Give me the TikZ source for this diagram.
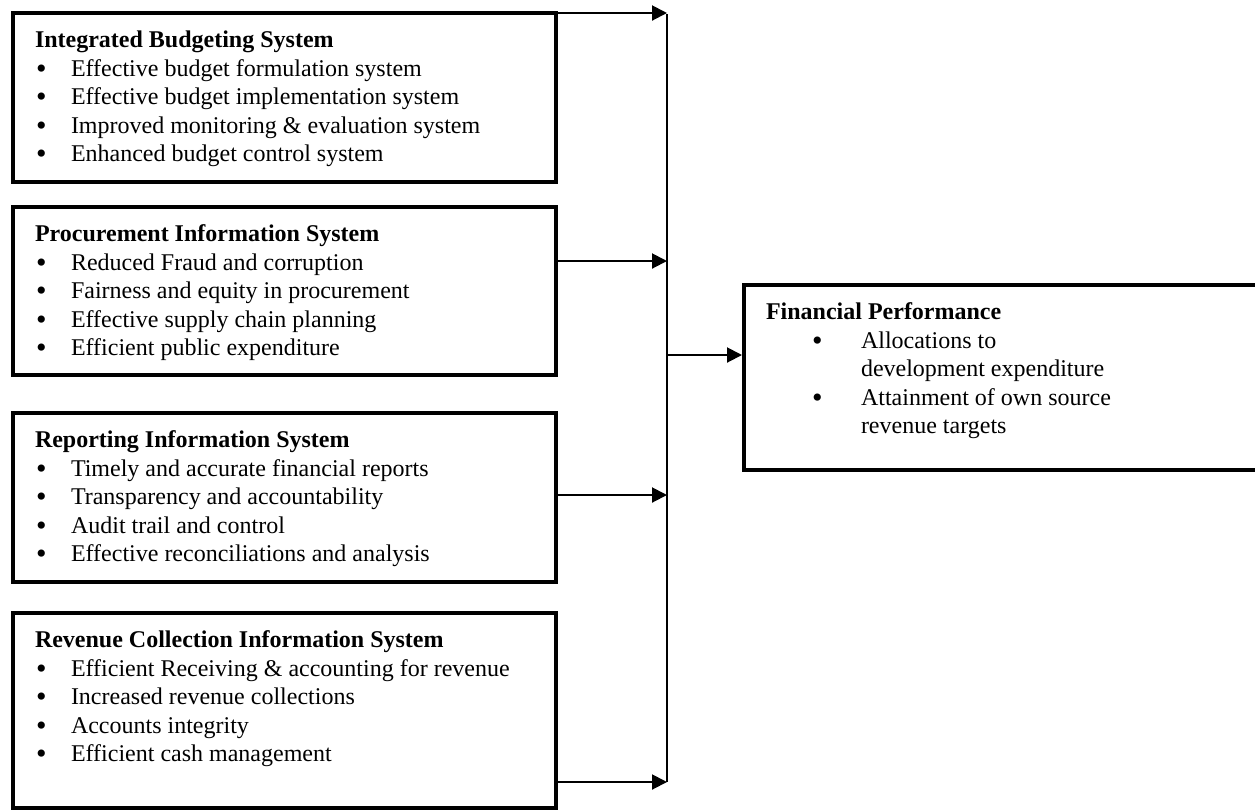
\documentclass[tikz,border=0pt]{standalone}
\usepackage{fontspec}
\setmainfont{Liberation Serif}
\usetikzlibrary{arrows.meta, positioning, calc}

% bullet rows
\newcommand{\bigdot}{\smash{\raisebox{-0.8pt}{\fontsize{15}{14}\selectfont\textbullet}}}
\newcommand{\bul}{\makebox[18pt][l]{\hspace{0.5pt}\bigdot}}
\newcommand{\fpbul}{\hspace*{23pt}\makebox[24.5pt][l]{\bigdot}}
\newcommand{\fpgo}{\hspace*{47.5pt}}

\begin{document}
\begin{tikzpicture}[x=0.5pt, y=-0.5pt,
    font=\fontsize{12}{14.25}\selectfont,
    sysbox/.style={draw, line width=2pt, anchor=north west, outer sep=0pt,
        inner xsep=11pt, inner ysep=7.5pt},
    feed/.style={line width=1pt, -{Triangle[length=7.5pt,width=7.5pt]}}]
    \useasboundingbox (0,0) rectangle (1255,811);
    \clip (0,0) rectangle (1255,811);

    % Integrated Budgeting System
    \node[sysbox] (ibs) at (13,13) {\parbox[t][69.5pt][t]{249.5pt}{\strut\textbf{Integrated Budgeting System}\\
        \bul Effective budget formulation system\\
        \bul Effective budget implementation system\\
        \bul Improved monitoring \& evaluation system\\
        \bul Enhanced budget control system}};

    % Procurement Information System
    \node[sysbox] (pis) at (13,207) {\parbox[t][69pt][t]{249.5pt}{\strut\textbf{Procurement Information System}\\
        \bul Reduced Fraud and corruption\\
        \bul Fairness and equity in procurement\\
        \bul Effective supply chain planning\\
        \bul Efficient public expenditure}};

    % Reporting Information System
    \node[sysbox] (ris) at (13,413) {\parbox[t][69.5pt][t]{249.5pt}{\strut\textbf{Reporting Information System}\\
        \bul Timely and accurate financial reports\\
        \bul Transparency and accountability\\
        \bul Audit trail and control\\
        \bul Effective reconciliations and analysis}};

    % Revenue Collection Information System
    \node[sysbox] (rcis) at (13,613) {\parbox[t][82.5pt][t]{249.5pt}{\strut\textbf{Revenue Collection Information System}\\
        \bul Efficient Receiving \& accounting for revenue\\
        \bul Increased revenue collections\\
        \bul Accounts integrity\\
        \bul Efficient cash management}};

    % Financial Performance (cut at the right edge)
    \node[sysbox] (fp) at (744,285) {\parbox[t][77.5pt][t]{251pt}{\strut\textbf{Financial Performance}\\
        \fpbul Allocations to\\
        \fpgo development expenditure\\
        \fpbul Attainment of own source\\
        \fpgo revenue targets}};

    % collecting line
    \coordinate (bustop) at (667,14);
    \coordinate (busbot) at (667,782);
    \coordinate (j2) at (667,261);
    \coordinate (j3) at (667,495);
    \coordinate (jout) at (667,355);
    \draw[line width=0.8pt] (bustop) -- (busbot);

    \draw[feed] (ibs.north east) -- (ibs.north east -| bustop);
    \draw[feed] (j2 -| pis.east) -- (j2);
    \draw[feed] (j3 -| ris.east) -- (j3);
    \draw[feed] (busbot -| rcis.east) -- (busbot);
    \draw[feed, shorten >=1pt] (jout) -- (jout -| fp.west);
\end{tikzpicture}
\end{document}
